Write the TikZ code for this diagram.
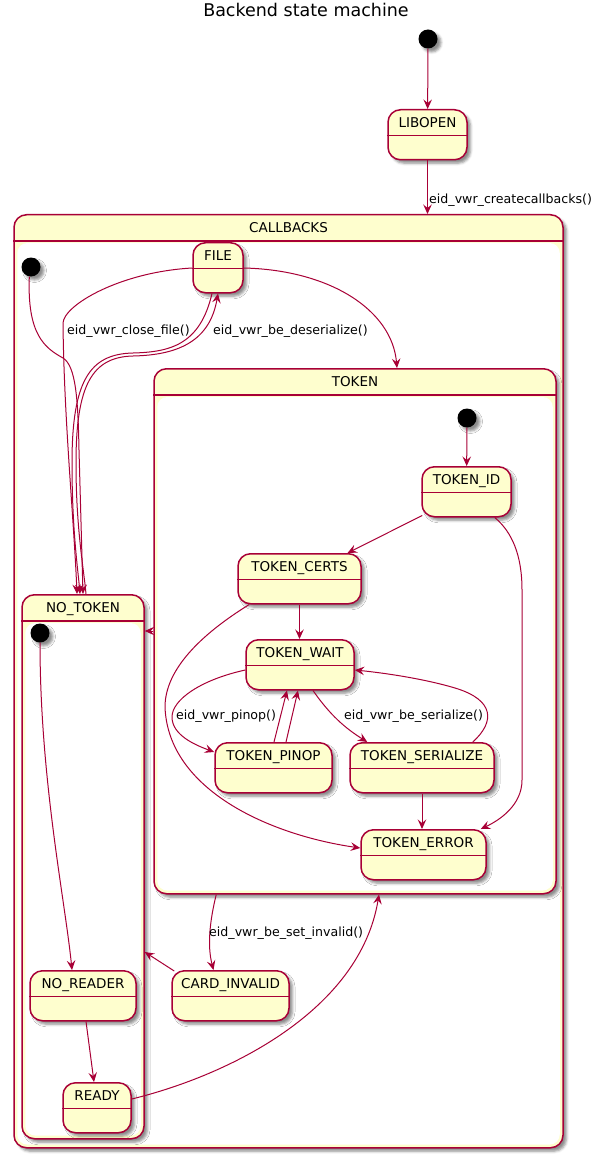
\documentclass[tikz,border=0pt]{standalone}
\usepackage{fontspec}
\setmainfont{DejaVu Sans}
\usetikzlibrary{arrows.meta,calc,shadows.blur}
\definecolor{umlborder}{HTML}{A80036}
\definecolor{umlfill}{HTML}{FEFECE}
\tikzset{
  softshadow/.style={blur shadow={shadow xshift=3.5pt, shadow yshift=-3.5pt, shadow blur radius=2.5pt, shadow opacity=45}},
  stbox/.style={draw=umlborder, line width=1.5pt, fill=umlfill, rounded corners=12.5pt, inner sep=0pt, softshadow},
  stname/.style={font=\fontsize{13.5}{16}\selectfont, anchor=base, inner sep=0pt},
  hdrline/.style={draw=umlborder, line width=1.5pt},
  inistate/.style={circle, fill=black, minimum size=19pt, inner sep=0pt, softshadow},
  trans/.style={draw=umlborder, line width=1pt, -{Stealth[length=9.5pt,width=8.5pt,inset=3.5pt]}},
  tlabel/.style={font=\fontsize{12.6}{15}\selectfont, anchor=base west, inner sep=0pt},
}
% simple state: name, centre x, top y, width, title
\newcommand\umlstate[5]{%
  \node[stbox, minimum width=#4pt, minimum height=50pt, anchor=north] (#1) at (#2,#3) {};
  \node[stname] (#1-name) at ($(#1.north)+(0,18.5)$) {#5};
  \draw[hdrline] ($(#1.north west)+(0,26.5)$) -- ($(#1.north east)+(0,26.5)$);
}
% composite state: name, centre x, top y, width, height, title
\newcommand\umlcomposite[6]{%
  \node[stbox, minimum width=#4pt, minimum height=#5pt, anchor=north] (#1) at (#2,#3) {};
  \node[stname] (#1-name) at ($(#1.north)+(0,18.5)$) {#6};
  \draw[hdrline] ($(#1.north west)+(0,27)$) -- ($(#1.north east)+(0,27)$);
  \fill[white, rounded corners=10pt] ($(#1.north west)+(4,29)$) rectangle ($(#1.south east)+(-4,-4)$);
}
\begin{document}
\begin{tikzpicture}[x=1pt, y=-1pt]
\useasboundingbox (0,0) rectangle (603,1158);

\node[font=\fontsize{17.5}{20}\selectfont, anchor=base, inner sep=0pt] (title) at (306,17) {Backend state machine};

% top level
\node[inistate] (init0) at (428,39) {};
\umlstate{libopen}{427.5}{109}{79}{LIBOPEN}
\umlcomposite{callbacks}{288.5}{214}{549}{933}{CALLBACKS}

% inside CALLBACKS
\node[inistate] (init1) at (31,267) {};
\umlstate{file}{218}{242}{50}{FILE}
\umlcomposite{token}{355}{368}{402}{525}{TOKEN}
\umlcomposite{notoken}{83}{594}{122}{544}{NO\_TOKEN}
\umlstate{cardinvalid}{230.5}{970}{117}{CARD\_INVALID}

% inside TOKEN
\node[inistate] (init2) at (467,418) {};
\umlstate{tokenid}{466.5}{466}{89}{TOKEN\_ID}
\umlstate{tokencerts}{299.5}{553}{123}{TOKEN\_CERTS}
\umlstate{tokenwait}{300}{639}{108}{TOKEN\_WAIT}
\umlstate{tokenpinop}{273.5}{742}{117}{TOKEN\_PINOP}
\umlstate{tokenserialize}{422}{742}{144}{TOKEN\_SERIALIZE}
\umlstate{tokenerror}{423.5}{829}{125}{TOKEN\_ERROR}

% inside NO_TOKEN
\node[inistate] (init3) at (40,633) {};
\umlstate{noreader}{83}{970}{106}{NO\_READER}
\umlstate{ready}{97}{1082}{68}{READY}

% transitions: top level
\draw[trans] (init0) -- (libopen);
\draw[trans] (libopen.south) -- (libopen.south |- callbacks.north);
\node[tlabel] (lbl-create) at (429,203.5) {eid\_vwr\_createcallbacks()};

% transitions: CALLBACKS
\draw[trans] (init1.-100) .. controls (27,335) and (45,348) .. (63,358)
  .. controls (76,366) and (78,400) .. (79,450) -- ($(notoken.north)+(0,0)$);
\draw[trans] ($(file.north west)+(0,26)$) .. controls (120,272) and (64,305) .. (63,323)
  .. controls (64,420) and (74,520) .. ($(notoken.north)+(-6,0)$);
\node[tlabel] (lbl-close) at (67,334) {eid\_vwr\_close\_file()};
\draw[trans] ($(file.south)+(-6,0)$) .. controls (200,345) and (170,352) .. (133,353)
  .. controls (90,354) and (72,380) .. (72,463) .. controls (72,530) and (78,570) .. ($(notoken.north)+(-3,0)$);
\draw[trans] ($(notoken.north)+(3,0)$) .. controls (84,570) and (76,530) .. (76,463)
  .. controls (76,385) and (92,357) .. (133,356) .. controls (180,355) and (210,340) .. (file.south);
\node[tlabel] (lbl-deser) at (213,334) {eid\_vwr\_be\_deserialize()};
\draw[trans] ($(file.north east)+(0,26)$) .. controls (330,270) and (392,310) .. ($(token.north)+(42,0)$);
\draw[trans] ($(token.north west)+(0,263)$) -- ($(notoken.north east)+(0,37)$);
\draw[trans] ($(token.south west)+(63,0)$) .. controls (210,920) and (207,945) .. ($(cardinvalid.north)+(-17,0)$);
\node[tlabel] (lbl-invalid) at (209,936.5) {eid\_vwr\_be\_set\_invalid()};
\draw[trans] ($(cardinvalid.north west)+(3,1)$) -- ($(notoken.north east)+(0,358)$);

% transitions: TOKEN
\draw[trans] (init2) -- (tokenid);
\draw[trans] ($(tokenid.south west)+(1,-2)$) -- ($(tokencerts.north)+(48,0)$);
\draw[trans] ($(tokenid.south east)+(-17,0)$) .. controls (512,532) and (522,555) .. (522,590)
  -- (522,780) .. controls (522,805) and (500,820) .. ($(tokenerror.north east)+(-6,0)$);
\draw[trans] (tokencerts.south) -- (tokencerts.south |- tokenwait.north);
\draw[trans] ($(tokencerts.south west)+(12,0)$) .. controls (200,635) and (165,670) .. (165,707)
  .. controls (168,790) and (270,835) .. ($(tokenerror.north west)+(0,19)$);
\draw[trans] ($(tokenwait.north west)+(0,31)$) .. controls (200,680) and (172,700) .. (172,717)
  .. controls (172,735) and (195,745) .. ($(tokenpinop.north west)+(0,10)$);
\node[tlabel] (lbl-pinop) at (176,719) {eid\_vwr\_pinop()};
\draw[trans] ($(tokenpinop.north)+(0.5,0)$) -- ($(tokenwait.south)+(-13,0)$);
\draw[trans] ($(tokenpinop.north)+(12.5,0)$) -- ($(tokenwait.south)+(-2,0)$);
\draw[trans] ($(tokenwait.south)+(13,0)$) .. controls (330,715) and (345,728) .. ($(tokenserialize.north west)+(18,0)$);
\node[tlabel] (lbl-ser) at (344,719) {eid\_vwr\_be\_serialize()};
\draw[trans] ($(tokenserialize.north east)+(-22,0)$) .. controls (495,722) and (495,700) .. (455,688)
  .. controls (425,679) and (385,673) .. ($(tokenwait.north east)+(0,31)$);
\draw[trans] (tokenserialize.south) -- (tokenserialize.south |- tokenerror.north);

% transitions: NO_TOKEN
\draw[trans] (init3) .. controls (40,780) and (65,900) .. ($(noreader.north)+(-11,0)$);
\draw[trans] ($(noreader.south)+(3,0)$) -- ($(ready.north)+(-3,0)$);
\draw[trans] ($(ready.north east)+(0,17)$) .. controls (230,1075) and (360,1010) .. ($(token.south)+(24,0)$);
\end{tikzpicture}
\end{document}
